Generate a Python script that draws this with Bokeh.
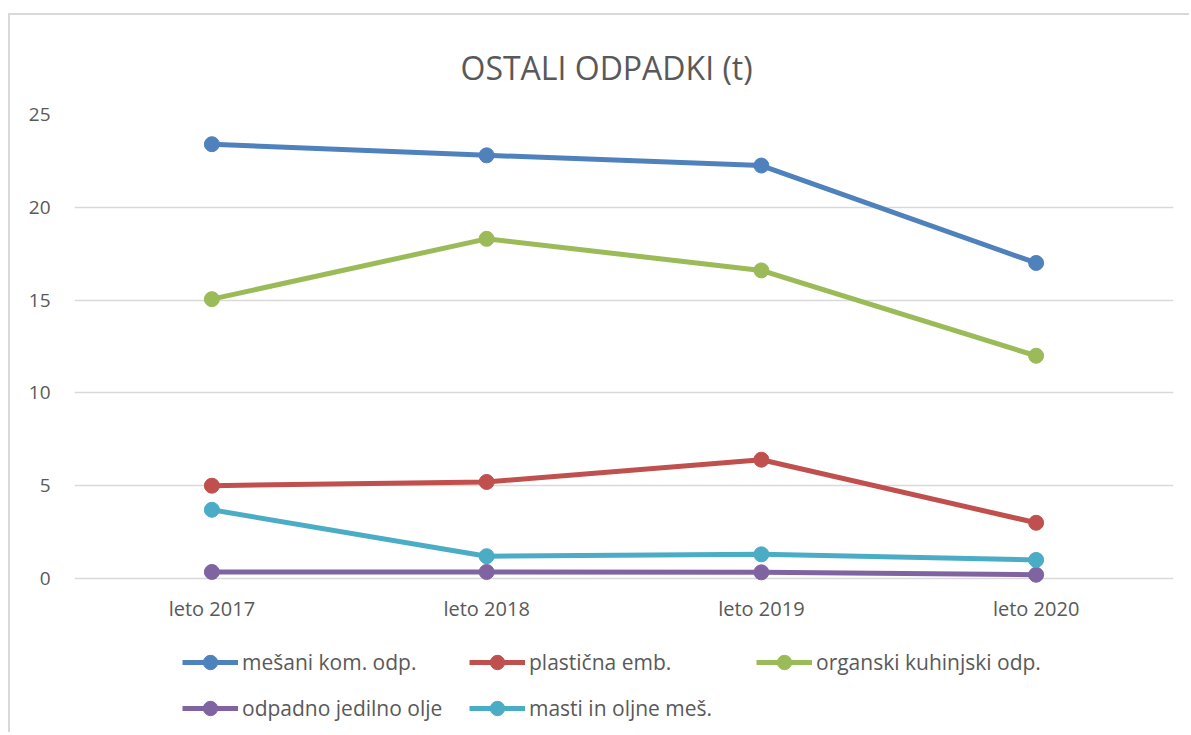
from bokeh.plotting import figure
from bokeh.models import FactorRange, Legend, LegendItem, Range1d, FixedTicker, Title
from bokeh.core.properties import value
from bokeh.embed import file_html
from bokeh.resources import INLINE

categories = ["leto 2017", "leto 2018", "leto 2019", "leto 2020"]
series_names = ["mešani kom. odp.", "plastična emb.", "organski kuhinjski odp.",
                "odpadno jedilno olje", "masti in oljne meš."]
mesani = [23.4, 22.8, 22.25, 17.0]
plasticna = [5.0, 5.2, 6.4, 3.0]
organski = [15.05, 18.3, 16.6, 12.0]
olje = [0.35, 0.35, 0.33, 0.2]
masti = [3.7, 1.2, 1.3, 1.0]
colors = ["#4f81bd", "#c0504d", "#9bbb59", "#8064a2", "#4bacc6"]
y_ticks = [0, 5, 10, 15, 20, 25]

FONT = "Open Sans"
TXT = "#595959"

# the plot frame is extended below zero so the legend and category labels have room
Y_MIN = -8.3
LABEL_Y = -1.62

p = figure(x_range=FactorRange(*categories), y_range=Range1d(Y_MIN, 25),
           frame_width=1099, frame_height=618, output_backend="svg", toolbar_location=None,
           min_border_left=64, min_border_right=16, min_border_top=99, min_border_bottom=0)
p.title = None
t = Title(text="OSTALI ODPADKI (t)", align="left", offset=386, text_font=FONT,
          text_font_size="32px", text_font_style="normal", text_color=TXT, standoff=52)
p.add_layout(t, "above")

p.outline_line_color = None
p.xgrid.grid_line_color = None
p.ygrid.grid_line_color = "#d9d9d9"
p.ygrid.grid_line_width = 1.5
p.yaxis.ticker = FixedTicker(ticks=y_ticks)
p.yaxis.axis_line_color = None
p.yaxis.major_tick_line_color = None
p.yaxis.minor_tick_line_color = None
p.yaxis.major_label_text_font = FONT
p.yaxis.major_label_text_color = TXT
p.yaxis.major_label_text_font_size = "19px"
p.yaxis.major_label_standoff = 18
p.xaxis.visible = False

# category labels placed through the categorical x scale
p.text(x=categories, y=[LABEL_Y] * len(categories), text=categories,
       text_font=value(FONT), text_font_size="20px", text_color=TXT,
       text_align="center", text_baseline="middle")

items = []
for name, vals, col in zip(series_names, [mesani, plasticna, organski, olje, masti], colors):
    ln = p.line(categories, vals, line_color=col, line_width=5)
    sc = p.scatter(categories, vals, size=15, fill_color=col, line_color=col)
    items.append(LegendItem(label=name, renderers=[ln, sc]))

legend = Legend(items=items, orientation="horizontal", ncols=3, location=(108, 6),
                label_text_font=FONT, label_text_font_size="21px", label_text_color=TXT,
                glyph_width=56, glyph_height=36, label_standoff=4, label_width=217,
                spacing=10, border_line_color=None, background_fill_alpha=0,
                padding=0, margin=0)
p.add_layout(legend, "center")

p.styles = {"border-left": "2px solid #d9d9d9", "border-top": "2px solid #d9d9d9"}
p.margin = (13, 0, 0, 8)

open("out.html", "w").write(file_html(p, INLINE))
